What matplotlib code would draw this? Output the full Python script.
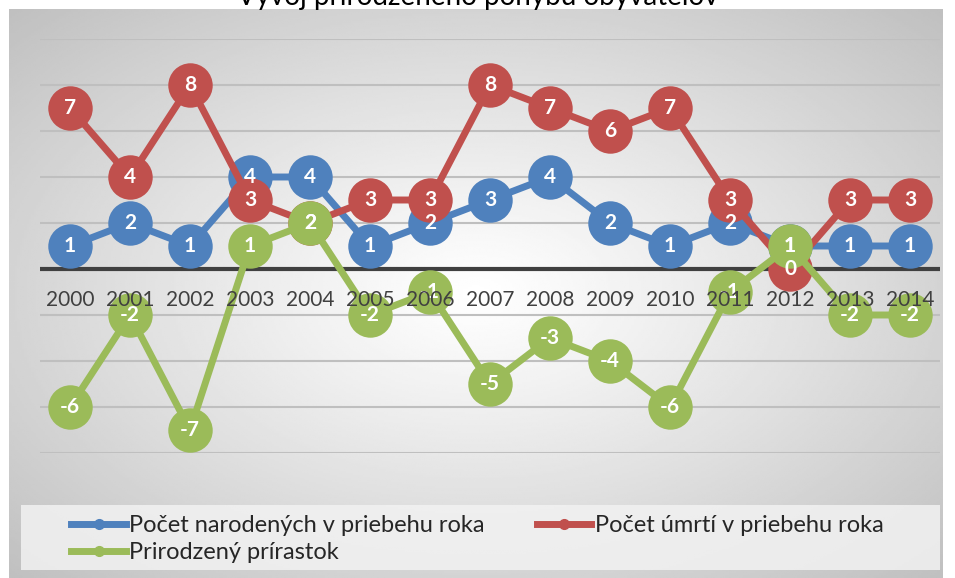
import numpy as np
import matplotlib
matplotlib.use('Agg')
import matplotlib.pyplot as plt
from matplotlib.patches import Rectangle
from matplotlib.lines import Line2D

plt.rcParams['font.family'] = ['Lato', 'DejaVu Sans']

years = ['2000', '2001', '2002', '2003', '2004', '2005', '2006', '2007',
         '2008', '2009', '2010', '2011', '2012', '2013', '2014']
births = [1, 2, 1, 4, 4, 1, 2, 3, 4, 2, 1, 2, 1, 1, 1]
deaths = [7, 4, 8, 3, 2, 3, 3, 8, 7, 6, 7, 3, 0, 3, 3]
increase = [-6, -2, -7, 1, 2, -2, -1, -5, -3, -4, -6, -1, 1, -2, -2]

names = ['Počet narodených v priebehu roka', 'Počet úmrtí v priebehu roka', 'Prirodzený prírastok']
colors = ['#4F81BD', '#C0504D', '#9BBB59']
title = 'Vývoj prirodzeného pohybu obyvateľov'

W, H = 955, 578
fig = plt.figure(figsize=(W / 100, H / 100), dpi=100)

# radial grey background of the chart area
bg = fig.add_axes([9 / W, 0, (942 - 9) / W, (H - 9) / H])
gx, gy = np.meshgrid(np.linspace(-1, 1, 400), np.linspace(-1, 1, 300))
r = np.sqrt(gx ** 2 + gy ** 2)
shade = np.clip(1 - 0.17 * r ** 1.1, 0, 1)
bg.imshow(shade, cmap='gray', vmin=0, vmax=1, aspect='auto', extent=[0, 1, 0, 1])
bg.axis('off')

# legend background
fig.patches.append(Rectangle((21 / W, 1 - 570 / H), (940 - 21) / W, 65 / H,
                             transform=fig.transFigure, facecolor='#f2f2f2',
                             edgecolor='none', alpha=0.85, zorder=1))

ax = fig.add_axes([40 / W, 1 - 453 / H, 900 / W, (453 - 39) / H])
ax.set_facecolor('none')
x = np.arange(len(years))
ax.set_xlim(-0.5, len(years) - 0.5)
ax.set_ylim(-8, 10)
for s in ax.spines.values():
    s.set_visible(False)
ax.set_xticks([])
ax.set_yticks([])

for g in range(-8, 11, 2):
    if g != 0:
        ax.axhline(g, color='#bfbfbf', lw=1.5, zorder=1)
ax.axhline(0, color='#404040', lw=3, zorder=1.5)

for vals, c in zip([births, deaths, increase], colors):
    ax.plot(x, vals, color=c, lw=5, marker='o', markersize=32,
            markeredgewidth=0, solid_capstyle='round', zorder=2)

for vals in [births, deaths, increase]:
    for xi, v in zip(x, vals):
        ax.text(xi, v, str(v), color='white', fontsize=15, fontweight='bold',
                ha='center', va='center', zorder=5)

for xi, yr in zip(x, years):
    ax.text(xi, -1.35, yr, color='#404040', fontsize=15, ha='center', va='center', zorder=6)

fig.text(0.5, 1 - 5 / H, title, ha='center', va='baseline', fontsize=20, color='#000000')

handles = [Line2D([], [], color=c, lw=5, marker='o', markersize=7) for c in colors]
order = [0, 2, 1]
leg = fig.legend([handles[i] for i in order], [names[i] for i in order],
                 loc='upper left', bbox_to_anchor=(62 / W, 1 - 506 / H), ncol=2,
                 frameon=False, fontsize=17, handlelength=2.3, handletextpad=0.15,
                 columnspacing=2.2, labelspacing=0.25, borderaxespad=0)
for t in leg.get_texts():
    t.set_color('#262626')

fig.savefig('out.png', dpi=100)
